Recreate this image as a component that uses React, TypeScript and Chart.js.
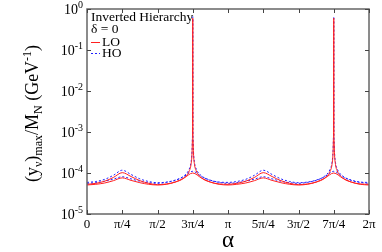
import React, { useEffect, useRef } from "react";
import { Chart, registerables } from "chart.js";
Chart.register(...registerables);

// alpha expressed in units of pi/4
const xTickValues = [0, 1, 2, 3, 4, 5, 6, 7, 8];
const xTickLabels = ["0", "π/4", "π/2", "3π/4", "π", "5π/4", "3π/2", "7π/4", "2π"];
const yTickExponents = [-5, -4, -3, -2, -1, 0];

const alphaFine = [
  0, 0.25, 0.5, 0.75, 1, 1.25, 1.5, 1.75, 2, 2.25, 2.5, 2.75, 2.9, 2.95, 2.98, 2.99, 2.995, 3,
  3.005, 3.01, 3.02, 3.05, 3.1, 3.25, 3.5, 3.75, 4, 4.25, 4.5, 4.75, 5, 5.25, 5.5, 5.75, 6, 6.25,
  6.5, 6.75, 6.9, 6.95, 6.98, 6.99, 6.995, 7, 7.005, 7.01, 7.02, 7.05, 7.1, 7.25, 7.5, 7.75, 8,
];
const hoUpper = [
  5.9e-5, 6.2e-5, 7.0e-5, 8.8e-5, 1.17e-4, 9.2e-5, 7.2e-5, 6.2e-5, 5.8e-5, 6.0e-5, 6.7e-5, 8.5e-5,
  1.25e-4, 1.8e-4, 3.5e-4, 7e-4, 1.5e-3, 0.65, 1.5e-3, 7e-4, 3.5e-4, 1.8e-4, 1.25e-4, 8.5e-5,
  6.7e-5, 6.0e-5, 5.9e-5, 6.2e-5, 7.0e-5, 8.8e-5, 1.17e-4, 9.2e-5, 7.2e-5, 6.2e-5, 5.8e-5, 6.0e-5,
  6.7e-5, 8.5e-5, 1.25e-4, 1.8e-4, 3.5e-4, 7e-4, 1.5e-3, 0.65, 1.5e-3, 7e-4, 3.5e-4, 1.8e-4,
  1.25e-4, 8.5e-5, 6.7e-5, 6.0e-5, 5.9e-5,
];
const loUpper = [
  5.3e-5, 5.6e-5, 6.3e-5, 7.8e-5, 1.02e-4, 8.2e-5, 6.5e-5, 5.6e-5, 5.2e-5, 5.4e-5, 6.0e-5, 7.6e-5,
  1.12e-4, 1.6e-4, 3.1e-4, 6.3e-4, 1.35e-3, 0.6, 1.35e-3, 6.3e-4, 3.1e-4, 1.6e-4, 1.12e-4, 7.6e-5,
  6.0e-5, 5.4e-5, 5.3e-5, 5.6e-5, 6.3e-5, 7.8e-5, 1.02e-4, 8.2e-5, 6.5e-5, 5.6e-5, 5.2e-5, 5.4e-5,
  6.0e-5, 7.6e-5, 1.12e-4, 1.6e-4, 3.1e-4, 6.3e-4, 1.35e-3, 0.6, 1.35e-3, 6.3e-4, 3.1e-4, 1.6e-4,
  1.12e-4, 7.6e-5, 6.0e-5, 5.4e-5, 5.3e-5,
];
const alphaCoarse = [
  0, 0.25, 0.5, 0.75, 1, 1.25, 1.5, 1.75, 2, 2.25, 2.5, 2.75, 3, 3.25, 3.5, 3.75, 4,
  4.25, 4.5, 4.75, 5, 5.25, 5.5, 5.75, 6, 6.25, 6.5, 6.75, 7, 7.25, 7.5, 7.75, 8,
];
const hoLower = [
  5.6e-5, 5.8e-5, 6.3e-5, 7.1e-5, 8.1e-5, 7.2e-5, 6.3e-5, 5.8e-5, 5.6e-5, 5.9e-5, 6.6e-5, 8.2e-5,
  1.1e-4, 8.2e-5, 6.6e-5, 5.9e-5, 5.6e-5, 5.8e-5, 6.3e-5, 7.1e-5, 8.1e-5, 7.2e-5, 6.3e-5, 5.8e-5,
  5.6e-5, 5.9e-5, 6.6e-5, 8.2e-5, 1.1e-4, 8.2e-5, 6.6e-5, 5.9e-5, 5.6e-5,
];
const loLower = [
  5.1e-5, 5.3e-5, 5.7e-5, 6.5e-5, 7.6e-5, 6.6e-5, 5.8e-5, 5.3e-5, 5.1e-5, 5.3e-5, 6.0e-5, 7.5e-5,
  1.0e-4, 7.5e-5, 6.0e-5, 5.3e-5, 5.1e-5, 5.3e-5, 5.7e-5, 6.5e-5, 7.6e-5, 6.6e-5, 5.8e-5, 5.3e-5,
  5.1e-5, 5.3e-5, 6.0e-5, 7.5e-5, 1.0e-4, 7.5e-5, 6.0e-5, 5.3e-5, 5.1e-5,
];

const legendTitle = ["Inverted Hierarchy", "δ = 0"];
const seriesNames = ["LO", "HO"];
const seriesColors = ["#ff2020", "#2020ff"];

const SERIF = "'Liberation Serif', 'Times New Roman', serif";

const pts = (xs: number[], ys: number[]) => xs.map((x, i) => ({ x, y: ys[i] }));

const framePlugin = {
  id: "framePlugin",
  afterDraw(chart: any) {
    const ctx = chart.ctx as CanvasRenderingContext2D;
    const { left, right, top, bottom } = chart.chartArea;
    const xs = chart.scales.x;
    const ys = chart.scales.y;
    ctx.save();
    // frame
    ctx.strokeStyle = "#666";
    ctx.lineWidth = 1.5;
    ctx.strokeRect(left, top, right - left, bottom - top);
    // inward ticks
    ctx.lineWidth = 1;
    ctx.strokeStyle = "#444";
    ctx.beginPath();
    xTickValues.forEach((v) => {
      const px = Math.round(xs.getPixelForValue(v)) + 0.5;
      ctx.moveTo(px, bottom);
      ctx.lineTo(px, bottom - 4);
      ctx.moveTo(px, top);
      ctx.lineTo(px, top + 4);
    });
    yTickExponents.forEach((e) => {
      const py = Math.round(ys.getPixelForValue(Math.pow(10, e))) + 0.5;
      ctx.moveTo(left, py);
      ctx.lineTo(left + 4, py);
      ctx.moveTo(right, py);
      ctx.lineTo(right - 4, py);
    });
    ctx.stroke();

    // y tick labels 10^e
    ctx.fillStyle = "#000";
    yTickExponents.forEach((e) => {
      const py = ys.getPixelForValue(Math.pow(10, e));
      const expStr = String(e);
      ctx.font = `10px ${SERIF}`;
      const ew = ctx.measureText(expStr).width;
      const xEnd = left - 4;
      ctx.textAlign = "left";
      ctx.textBaseline = "alphabetic";
      ctx.fillText(expStr, xEnd - ew, py - 1);
      ctx.font = `14px ${SERIF}`;
      ctx.textAlign = "right";
      ctx.fillText("10", xEnd - ew, py + 5);
    });

    // x axis title
    ctx.font = `23px ${SERIF}`;
    ctx.textAlign = "center";
    ctx.textBaseline = "middle";
    ctx.fillText("α", (left + right) / 2, 241);

    // y axis title with sub/superscripts
    const segs: [string, number, number][] = [
      ["(y", 18, 0],
      ["ν", 12, 4],
      [")", 18, 0],
      ["max", 12, 4],
      ["/M", 18, 0],
      ["N", 12, 4],
      [" (GeV", 18, 0],
      ["-1", 12, -7],
      [")", 18, 0],
    ];
    let total = 0;
    segs.forEach(([t, s]) => {
      ctx.font = `${s}px ${SERIF}`;
      total += ctx.measureText(t).width;
    });
    ctx.translate(33, (top + bottom) / 2 + 2);
    ctx.rotate(-Math.PI / 2);
    ctx.textAlign = "left";
    ctx.textBaseline = "alphabetic";
    let cx = -total / 2;
    segs.forEach(([t, s, dy]) => {
      ctx.font = `${s}px ${SERIF}`;
      ctx.fillText(t, cx, 5 + dy);
      cx += ctx.measureText(t).width;
    });
    ctx.restore();

    // legend
    ctx.save();
    ctx.fillStyle = "#000";
    ctx.font = `13.5px ${SERIF}`;
    ctx.textAlign = "left";
    ctx.textBaseline = "middle";
    const lx = left + 4;
    ctx.fillText(legendTitle[0], lx, top + 8);
    ctx.fillText(legendTitle[1], lx, top + 20);
    seriesNames.forEach((n, i) => {
      const ly = top + 33 + i * 11;
      ctx.strokeStyle = seriesColors[i];
      ctx.lineWidth = 1;
      ctx.setLineDash(i === 1 ? [2, 2] : []);
      ctx.beginPath();
      ctx.moveTo(lx, ly + 0.5);
      ctx.lineTo(lx + 9, ly + 0.5);
      ctx.stroke();
      ctx.fillText(n, lx + 11, ly);
    });
    ctx.restore();
  },
};

export default function App() {
  const ref = useRef<HTMLCanvasElement>(null);
  useEffect(() => {
    if (!ref.current) return;
    const common = { pointRadius: 0, borderWidth: 1, fill: false, cubicInterpolationMode: "monotone" as const };
    const chart = new Chart(ref.current, {
      type: "line",
      data: {
        datasets: [
          { ...common, label: "LO", data: pts(alphaFine, loUpper), borderColor: seriesColors[0] },
          { ...common, label: "LO", data: pts(alphaCoarse, loLower), borderColor: seriesColors[0] },
          { ...common, label: "HO", data: pts(alphaFine, hoUpper), borderColor: seriesColors[1], borderDash: [2, 2] },
          { ...common, label: "HO", data: pts(alphaCoarse, hoLower), borderColor: seriesColors[1], borderDash: [2, 2] },
        ],
      },
      options: {
        animation: false,
        responsive: false,
        devicePixelRatio: 1,
        layout: { padding: { top: 9, right: 13, left: 0, bottom: 0 } },
        plugins: { legend: { display: false }, tooltip: { enabled: false } },
        scales: {
          x: {
            type: "linear",
            min: 0,
            max: 8,
            afterBuildTicks: (s: any) => {
              s.ticks = xTickValues.map((v) => ({ value: v }));
            },
            afterFit: (s: any) => {
              s.height = 38;
            },
            ticks: {
              autoSkip: false,
              maxRotation: 0,
              padding: 3,
              color: "#000",
              font: { family: SERIF, size: 13 },
              callback: (v: any) => xTickLabels[xTickValues.indexOf(Number(v))] ?? "",
            },
            grid: { display: false, drawTicks: false },
            border: { display: false },
          },
          y: {
            type: "logarithmic",
            min: 1e-5,
            max: 1,
            afterBuildTicks: (s: any) => {
              s.ticks = yTickExponents.map((e) => ({ value: Math.pow(10, e) }));
            },
            afterFit: (s: any) => {
              s.width = 87;
            },
            ticks: { display: false },
            grid: { display: false },
            border: { display: false },
          },
        },
      },
      plugins: [framePlugin],
    });
    return () => chart.destroy();
  }, []);
  return (
    <div style={{ position: "fixed", left: 0, top: 0, width: 382, height: 252, background: "#fff" }}>
      <canvas ref={ref} width={382} height={252} style={{ width: 382, height: 252 }} />
    </div>
  );
}
